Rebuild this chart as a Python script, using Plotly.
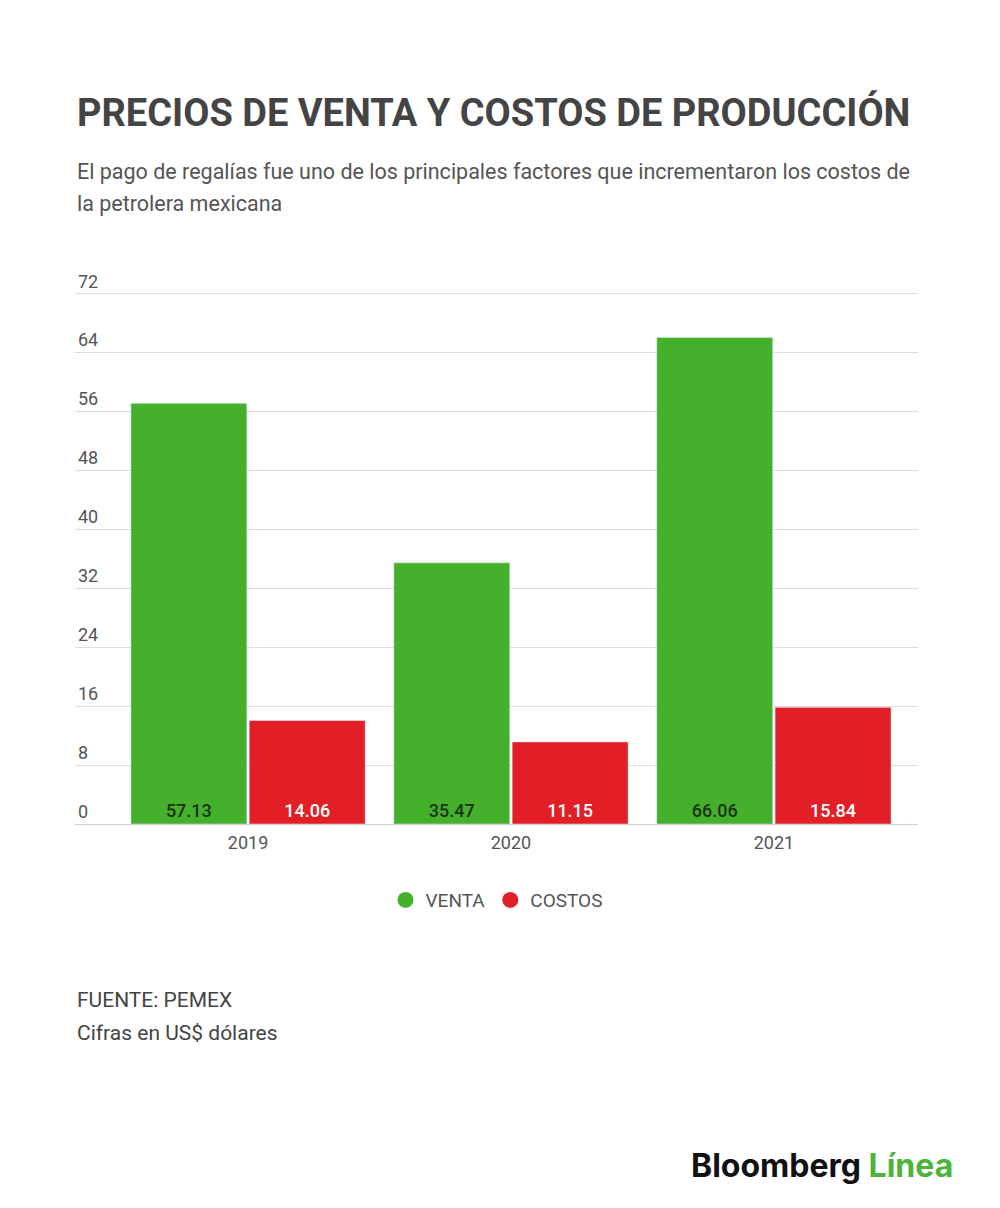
import plotly.graph_objects as go

# data
years = ['2019', '2020', '2021']
venta = [57.13, 35.47, 66.06]
costos = [14.06, 11.15, 15.84]
y_ticks = [0, 8, 16, 24, 32, 40, 48, 56, 64, 72]

GREEN = '#45b02b'
RED = '#e21f26'
FONT = 'Roboto'

x_pos = list(range(len(years)))

fig = go.Figure()
fig.add_trace(go.Bar(
    x=x_pos, y=venta, name='VENTA', marker_color=GREEN, showlegend=False,
    text=['%.2f' % v for v in venta], textposition='inside',
    insidetextanchor='start', constraintext='none',
    textfont=dict(family=FONT, size=18, color='#1d3418', weight=500),
))
fig.add_trace(go.Bar(
    x=x_pos, y=costos, name='COSTOS', marker_color=RED, showlegend=False,
    text=['%.2f' % v for v in costos], textposition='inside',
    insidetextanchor='start', constraintext='none',
    textfont=dict(family=FONT, size=18, color='white', weight=500),
))
# legend entries with round markers
for name, col in [('VENTA', GREEN), ('COSTOS', RED)]:
    fig.add_trace(go.Scatter(x=[None], y=[None], mode='markers', name=name,
                             marker=dict(color=col, size=22, symbol='circle')))

fig.update_layout(
    width=1000, height=1208,
    margin=dict(l=67, r=90, t=249, b=392),
    paper_bgcolor='white', plot_bgcolor='white',
    font=dict(family=FONT, color='#555'),
    barmode='group', bargap=0.1, bargroupgap=0.02,
    showlegend=True,
    legend=dict(orientation='h', x=0.5, xanchor='center', y=-0.1341, yanchor='middle',
                font=dict(size=19, color='#555'), itemsizing='trace'),
    xaxis=dict(range=[-0.658, 2.548], tickvals=x_pos, ticktext=years,
               showgrid=False, zeroline=False, showline=False,
               ticklabelstandoff=6, tickfont=dict(size=18, color='#555')),
    yaxis=dict(range=[0, 77], tickvals=y_ticks, showgrid=True, gridcolor='#dcdcdc',
               zeroline=True, zerolinecolor='#d0d0d0', zerolinewidth=1,
               ticklabelposition='inside top', tickfont=dict(size=18, color='#555')),
)

annotations = [
    dict(text='<b>PRECIOS DE VENTA Y COSTOS DE PRODUCCIÓN</b>', x=0, y=1.2546,
         font=dict(size=38, color='#444')),
    dict(text='El pago de regalías fue uno de los principales factores que incrementaron los costos de',
         x=0, y=1.1505, font=dict(size=21.5, color='#555')),
    dict(text='la petrolera mexicana', x=0, y=1.0952, font=dict(size=21.5, color='#555')),
    dict(text='FUENTE: PEMEX', x=0, y=-0.3106, font=dict(size=21, color='#444')),
    dict(text='Cifras en US$ dólares', x=0, y=-0.3688, font=dict(size=21, color='#444')),
]
for a in annotations:
    fig.add_annotation(xref='paper', yref='paper', xanchor='left', yanchor='middle',
                       showarrow=False, **a)
fig.add_annotation(
    text='<b><span style="color:#111">Bloomberg</span> <span style="color:#4cb43a">Línea</span></b>',
    xref='paper', yref='paper', x=1.044, y=-0.6017, xanchor='right', yanchor='middle',
    showarrow=False, font=dict(family='Inter', size=32))

fig.write_html('out.html')
